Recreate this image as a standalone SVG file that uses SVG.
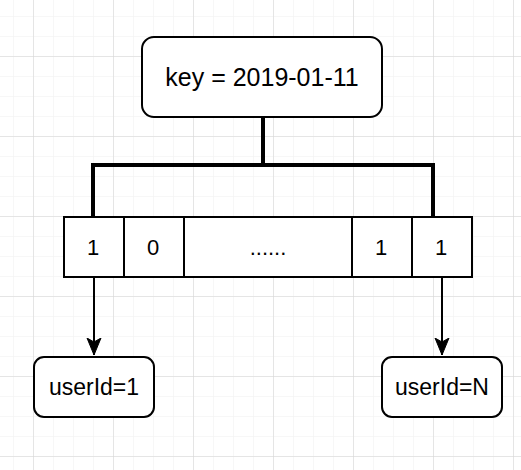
<svg xmlns="http://www.w3.org/2000/svg" width="521" height="470" viewBox="0 0 521 470">
  <defs>
    <pattern id="minor" x="13" y="16" width="20" height="20" patternUnits="userSpaceOnUse">
      <path d="M0 0H20M0 0V20" fill="none" stroke="#efefef" stroke-width="1"/>
    </pattern>
    <pattern id="major" x="33" y="56" width="80" height="80" patternUnits="userSpaceOnUse">
      <path d="M0 0H80M0 0V80" fill="none" stroke="#d4d4d4" stroke-width="1"/>
    </pattern>
    <marker id="arrow" viewBox="0 0 18 16" markerWidth="18" markerHeight="16" refX="17" refY="8" orient="auto" markerUnits="userSpaceOnUse">
      <path d="M0 1 L17 8 L0 15 L4 8 Z" fill="#000" stroke="#000" stroke-width="1"/>
    </marker>
  </defs>
  <style>
    .box { fill: #fff; stroke: #000; stroke-width: 2; }
    .cell { fill: #fff; stroke: #000; stroke-width: 2; }
    .t { font-family: "Liberation Sans", Arial, Helvetica, sans-serif; fill: #000; text-anchor: middle; }
    .bus { fill: none; stroke: #000; stroke-width: 4; }
    .arr { fill: none; stroke: #000; stroke-width: 2; }
  </style>
  <rect width="521" height="470" fill="#fff"/>
  <rect width="521" height="470" fill="url(#minor)"/>
  <rect width="521" height="470" fill="url(#major)"/>

  <g id="connectors">
    <path class="bus" d="M263 117 V165 M93 217 V165 H433 V217"/>
    <path class="arr" d="M94 277 V355" marker-end="url(#arrow)"/>
    <path class="arr" d="M442 277 V355" marker-end="url(#arrow)"/>
  </g>

  <g id="key">
    <rect class="box" x="142" y="37" width="240" height="80" rx="12"/>
    <text class="t" x="262" y="86" font-size="25">key = 2019-01-11</text>
  </g>

  <g id="bitmap">
    <g id="cell1">
      <rect class="cell" x="64" y="217" width="60" height="60"/>
      <text class="t" x="93" y="255" font-size="22">1</text>
    </g>
    <g id="cell2">
      <rect class="cell" x="124" y="217" width="60" height="60"/>
      <text class="t" x="153" y="255" font-size="22">0</text>
    </g>
    <g id="cell3">
      <rect class="cell" x="184" y="217" width="168" height="60"/>
      <text class="t" x="268" y="255" font-size="22">......</text>
    </g>
    <g id="cell4">
      <rect class="cell" x="352" y="217" width="60" height="60"/>
      <text class="t" x="381" y="255" font-size="22">1</text>
    </g>
    <g id="cell5">
      <rect class="cell" x="412" y="217" width="60" height="60"/>
      <text class="t" x="441" y="255" font-size="22">1</text>
    </g>
  </g>

  <g id="user1">
    <rect class="box" x="34" y="357" width="120" height="60" rx="10"/>
    <text class="t" x="94" y="395" font-size="23">userId=1</text>
  </g>

  <g id="userN">
    <rect class="box" x="382" y="357" width="120" height="60" rx="10"/>
    <text class="t" x="442" y="395" font-size="23">userId=N</text>
  </g>
</svg>
